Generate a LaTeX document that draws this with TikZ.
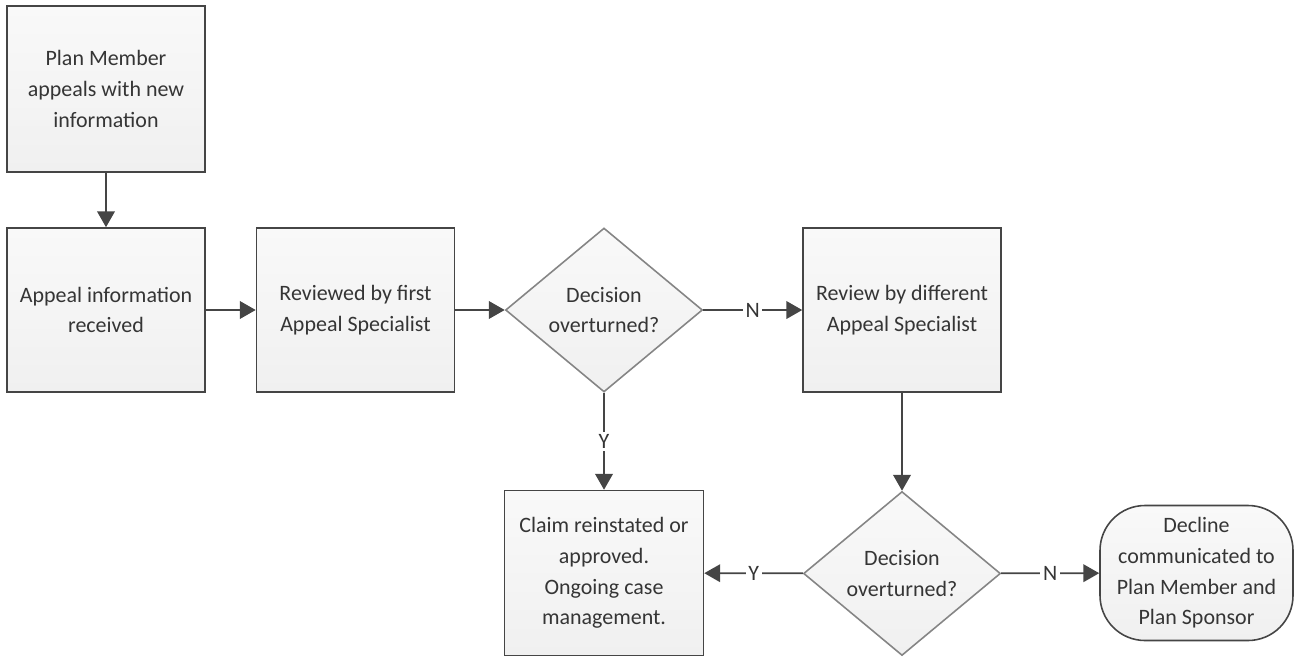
\documentclass[tikz,border=0pt]{standalone}
\usepackage{fontspec}
\setmainfont{Carlito}
\usepackage{xcolor}
\usetikzlibrary{arrows.meta,positioning,shapes.geometric}
\definecolor{textgray}{HTML}{353535}
\definecolor{edgegray}{HTML}{454545}
\definecolor{diagray}{HTML}{858585}
\definecolor{filltop}{HTML}{F9F9F9}
\definecolor{fillbot}{HTML}{F0F0F0}

\tikzset{
  flowbox/.style={draw=edgegray,line width=0.9pt,top color=filltop,bottom color=fillbot,text=textgray,align=center,
    minimum width=3.96cm,minimum height=3.28cm,inner sep=2pt,
    font=\fontsize{12.5}{17.5}\selectfont},
  decide/.style={diamond,draw=diagray,line width=0.9pt,top color=filltop,bottom color=fillbot,text=textgray,align=center,
    aspect=1.2,inner sep=0pt,minimum width=3.94cm,minimum height=3.28cm,
    font=\fontsize{12.5}{17.5}\selectfont},
  endbox/.style={draw=edgegray,line width=0.9pt,top color=filltop,bottom color=fillbot,text=textgray,align=center,
    rounded corners=0.9cm,minimum width=3.86cm,minimum height=2.7cm,inner sep=2pt,
    font=\fontsize{12.5}{17.5}\selectfont},
  flow/.style={draw=edgegray,line width=1pt,-{Triangle[length=9pt,width=10pt]}},
  yn/.style={fill=white,text=textgray,inner sep=1.5pt,font=\fontsize{12.5}{14}\selectfont}
}

\begin{document}
\begin{tikzpicture}
\useasboundingbox (0,0) rectangle (25.98,-13.16);
% boxes
\node[flowbox,minimum height=3.32cm] (member) at (2.12,-1.78) {Plan Member\\appeals with new\\information};
\node[flowbox] (received) at (2.12,-6.2) {Appeal information\\received};
\node[flowbox] (firstreview) at (7.11,-6.2) {Reviewed by first\\Appeal Specialist};
\node[decide] (decision1) at (12.08,-6.2) {Decision\\overturned?};
\node[flowbox] (secondreview) at (18.04,-6.2) {Review by different\\Appeal Specialist};
\node[decide] (decision2) at (18.04,-11.47) {Decision\\overturned?};
\node[flowbox,minimum width=3.98cm,minimum height=3.3cm] (approved) at (12.08,-11.46) {Claim reinstated or\\approved.\\Ongoing case\\management.};
\node[endbox] (decline) at (23.93,-11.46) {Decline\\communicated to\\Plan Member and\\Plan Sponsor};
% connectors
\draw[flow] (member) -- (received);
\draw[flow] (received) -- (firstreview);
\draw[flow] (firstreview) -- (decision1);
\draw[flow] (decision1) -- node[yn] {N} (secondreview);
\draw[flow] (decision1) -- node[yn] {Y} (approved);
\draw[flow] (secondreview) -- (decision2);
\draw[flow] (decision2) -- node[yn] {Y} (approved);
\draw[flow] (decision2) -- node[yn] {N} (decline);
\end{tikzpicture}
\end{document}
